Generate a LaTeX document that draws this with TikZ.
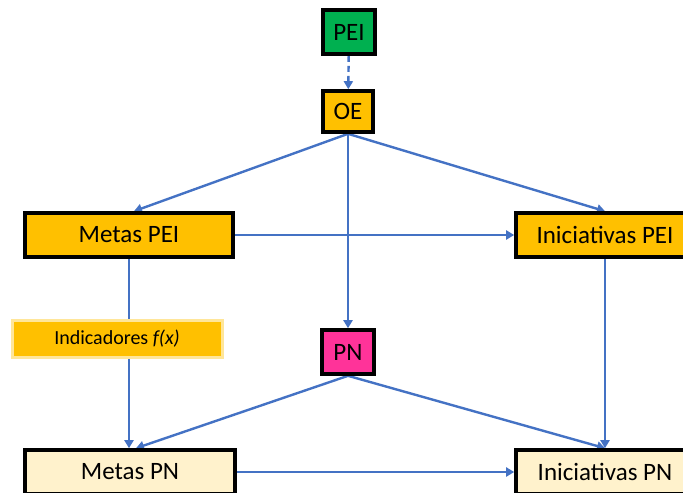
\documentclass[tikz,border=0pt]{standalone}
\usepackage{fontspec}
\setmainfont{Carlito}
\usetikzlibrary{arrows.meta,backgrounds}
\definecolor{peigreen}{HTML}{00B050}
\definecolor{oeorange}{HTML}{FFC000}
\definecolor{pnpink}{HTML}{FF3399}
\definecolor{pncream}{HTML}{FFF2CC}
\definecolor{indborder}{HTML}{FFE699}
\definecolor{linkblue}{HTML}{4472C4}
\tikzset{
  box/.style={draw=black,line width=1.8pt,inner sep=0pt,font=\fontsize{12.5}{14}\selectfont},
  link/.style={draw=linkblue,line width=1.2pt,-{Triangle[length=4pt,width=4.5pt]}}
}
\begin{document}
\begin{tikzpicture}[x=0.5pt,y=-0.5pt]
\useasboundingbox (0,0) rectangle (683,492);
\node[box,fill=peigreen,minimum width=26pt,minimum height=22pt](pei) at (349,32){PEI};
\node[box,fill=oeorange,minimum width=25pt,minimum height=20.5pt](oe) at (348,111.5){OE};
\node[box,fill=oeorange,minimum width=104pt,minimum height=22pt](mpei) at (129,235){Metas PEI};
\node[box,fill=oeorange,minimum width=89pt,minimum height=22pt](ipei) at (605,235){Iniciativas PEI};
\node[box,draw=indborder,line width=1.5pt,fill=oeorange,minimum width=105pt,minimum height=18.5pt,font=\fontsize{10}{12}\selectfont](ind) at (117,338.5){Indicadores \textit{f(x)}};
\node[box,fill=pnpink,minimum width=26pt,minimum height=22pt](pn) at (348,352){PN};
\node[box,fill=pncream,minimum width=105pt,minimum height=22pt](mpn) at (130,472){Metas PN};
\node[box,fill=pncream,minimum width=89pt,minimum height=22pt](ipn) at (605,472){Iniciativas PN};
\begin{scope}[on background layer]
\draw[link,dashed,dash pattern=on 3pt off 2pt] (pei) -- (oe);
\draw[link] (oe.south) -- ([xshift=2.5pt]mpei.north);
\draw[link] (oe.south) -- (ipei.north);
\draw[link] (oe.south) -- (pn.north);
\draw[link] (mpei) -- (ipei);
\draw[link] (mpei.south) -- (mpei.south |- mpn.north);
\draw[link] (ipei.south) -- (ipn.north);
\draw[link] (pn.south) -- ([xshift=3pt]mpn.north);
\draw[link] (pn.south) -- (ipn.north);
\draw[link] (mpn) -- (ipn);
\end{scope}
\end{tikzpicture}
\end{document}
